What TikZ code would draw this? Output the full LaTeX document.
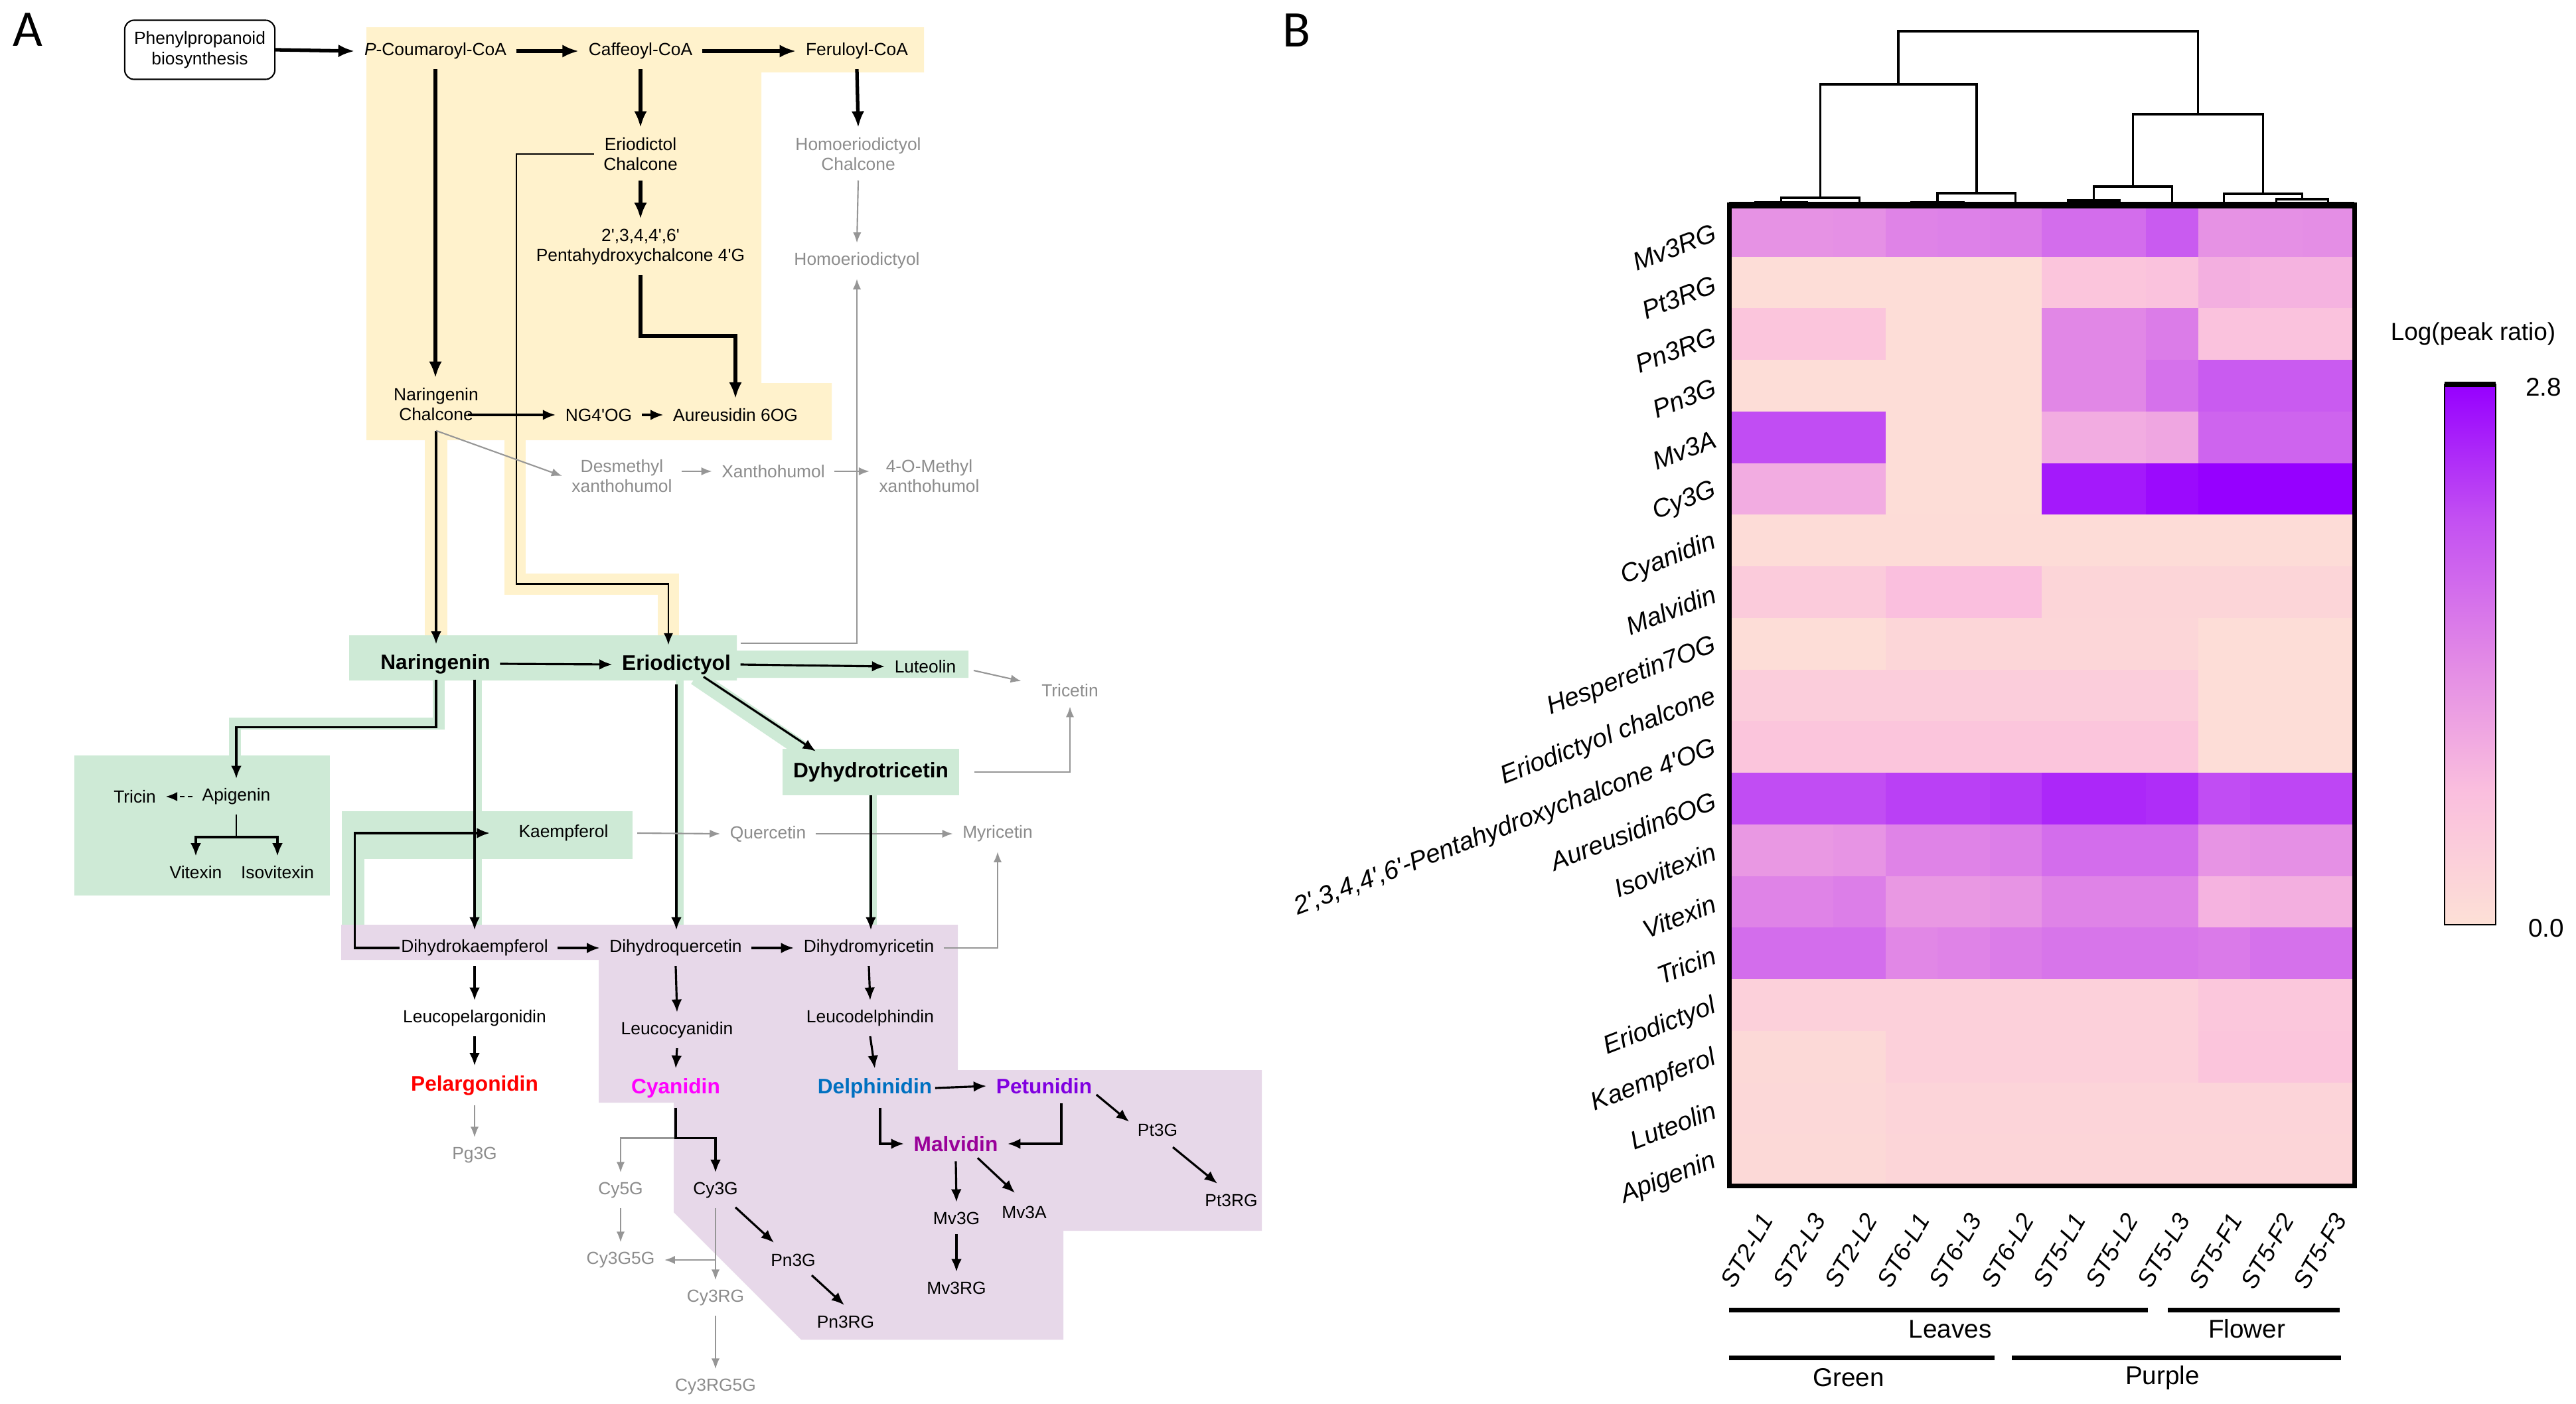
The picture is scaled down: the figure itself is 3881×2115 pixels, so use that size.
\documentclass[tikz,border=0pt]{standalone}
\usepackage{fontspec}
\setmainfont{Liberation Sans}
\newfontfamily\calib{Carlito}
\usetikzlibrary{arrows.meta,calc}
\definecolor{yel}{RGB}{255,242,204}
\definecolor{grn}{RGB}{206,234,214}
\definecolor{pur}{RGB}{231,216,233}
\definecolor{gtx}{RGB}{140,140,140}
\definecolor{gln}{RGB}{150,150,150}
\definecolor{pelc}{RGB}{255,0,0}
\definecolor{cyac}{RGB}{255,0,255}
\definecolor{delc}{RGB}{0,112,192}
\definecolor{petc}{RGB}{128,0,224}
\definecolor{malc}{RGB}{153,0,153}
\definecolor{hs0}{RGB}{253,224,214}
\definecolor{hs1}{RGB}{250,190,222}
\definecolor{hs2}{RGB}{225,135,230}
\definecolor{hs3}{RGB}{195,80,242}
\definecolor{hs4}{RGB}{150,0,255}
\pgfdeclareverticalshading{hmbar}{100bp}{color(0bp)=(hs0); color(25bp)=(hs0); color(37.5bp)=(hs1); color(50bp)=(hs2); color(62.5bp)=(hs3); color(75bp)=(hs4); color(100bp)=(hs4)}
\newcommand\tsm{\fontsize{7.5pt}{8.7pt}\selectfont}
\newcommand\tbf{\fontsize{9pt}{10pt}\selectfont\bfseries}
\newcommand\thm{\fontsize{10.5pt}{12pt}\selectfont}
\newcommand\thl{\fontsize{11pt}{13pt}\selectfont}
\newcommand\pq{\textquotesingle}
\newcommand\setcellcolor[1]{%
  \pgfmathsetmacro\hmv{#1}%
  \ifdim\hmv pt<0.25pt
    \pgfmathsetmacro\hmp{\hmv*400}\colorlet{hc}{hs1!\hmp!hs0}%
  \else\ifdim\hmv pt<0.5pt
    \pgfmathsetmacro\hmp{(\hmv-0.25)*400}\colorlet{hc}{hs2!\hmp!hs1}%
  \else\ifdim\hmv pt<0.75pt
    \pgfmathsetmacro\hmp{(\hmv-0.5)*400}\colorlet{hc}{hs3!\hmp!hs2}%
  \else
    \pgfmathsetmacro\hmp{min(100,(\hmv-0.75)*400)}\colorlet{hc}{hs4!\hmp!hs3}%
  \fi\fi\fi}
\begin{document}
\begin{tikzpicture}[x=0.01cm,y=-0.01cm,
  txt/.style={font=\tsm, inner sep=4pt, align=center},
  gtxt/.style={txt, text=gtx},
  btxt/.style={font=\tbf, inner sep=4pt, align=center},
  tarr/.style={line width=1.5pt, -{Latex[length=7pt,width=5.5pt]}},
  arr/.style={line width=0.9pt, -{Latex[length=5.5pt,width=4.5pt]}},
  narr/.style={line width=0.6pt, -{Latex[length=5pt,width=4pt]}},
  garr/.style={line width=0.6pt, draw=gln, -{Latex[length=4.5pt,width=3.5pt]}},
  dend/.style={line width=0.9pt},
  grp/.style={line width=2pt}
]
\useasboundingbox (0,0) rectangle (3881,2115);
\fill[white] (0,0) rectangle (3881,2115);

% ---------------- Panel A backgrounds
\fill[yel] (552,41) -- (1392,41) -- (1392,109) -- (1147,109) -- (1147,577) -- (1253,577) -- (1253,663) -- (552,663) -- cycle;
\draw[yel, line width=9.5pt] (657,660) -- (657,962);
\draw[yel, line width=9pt] (776,660) -- (776,880) -- (1007,880) -- (1007,962);

\fill[grn] (526,957) -- (1110,957) -- (1110,980) -- (1459,980) -- (1459,1021) -- (1110,1021) -- (1110,1025) -- (526,1025) -- cycle;
\fill[grn] (112,1138) rectangle (497,1349);
\fill[grn] (515,1222) rectangle (953,1294);
\fill[grn] (515,1222) rectangle (549,1394);
\draw[grn, line width=5pt] (661,1020) -- (661,1090) -- (354,1090) -- (354,1140);
\draw[grn, line width=3.5pt] (720,1020) -- (720,1394);
\draw[grn, line width=3.5pt] (1024,1020) -- (1024,1394);
\draw[grn, line width=3.5pt] (1315,1195) -- (1315,1394);
\draw[grn, line width=7pt] (1048,1020) -- (1212,1131);

\fill[pur] (514,1393) -- (1443,1393) -- (1443,1612) -- (1901,1612) -- (1901,1854) -- (1602,1854) -- (1602,2018) -- (1207,2018) -- (1015,1826) -- (1015,1661) -- (902,1661) -- (902,1446) -- (514,1446) -- cycle;

% ---------------- Panel A nodes
\node[font=\calib\fontsize{22pt}{24pt}\selectfont] (labA) at (42,45) {A};
\node[draw, rounded corners=4pt, line width=0.6pt, font=\tsm, align=center, minimum width=2.26cm, minimum height=0.89cm, inner sep=2pt] (phen) at (301,75) {Phenylpropanoid\\biosynthesis};
\node[txt] (pcoum) at (656,77) {\textit{P}-Coumaroyl-CoA};
\node[txt] (caff) at (965,77) {Caffeoyl-CoA};
\node[txt] (feru) at (1291,77) {Feruloyl-CoA};
\node[txt] (eriodch) at (965,232) {Eriodictol\\Chalcone};
\node[txt] (penta) at (965,372) {2\pq,3,4,4\pq,6\pq\\Pentahydroxychalcone 4\pq G};
\node[txt] (narch) at (657,609) {Naringenin\\Chalcone};
\node[txt] (ng4) at (902,625) {NG4\pq OG};
\node[txt] (aure) at (1108,625) {Aureusidin 6OG};
\node[gtxt] (homch) at (1293,232) {Homoeriodictyol\\Chalcone};
\node[gtxt] (homo) at (1291,393) {Homoeriodictyol};
\node[gtxt] (desm) at (937,717) {Desmethyl\\xanthohumol};
\node[gtxt] (xanth) at (1165,710) {Xanthohumol};
\node[gtxt] (omet) at (1400,717) {4-O-Methyl\\xanthohumol};
\node[btxt] (nar) at (656,1000) {Naringenin};
\node[btxt] (erio) at (1019,1001) {Eriodictyol};
\node[txt] (lute) at (1394,1004) {Luteolin};
\node[gtxt] (tricet) at (1612,1040) {Tricetin};
\node[btxt, fill=grn, minimum width=2.66cm, minimum height=0.69cm] (dyhy) at (1312,1163) {Dyhydrotricetin};
\node[txt] (apig) at (356,1200) {Apigenin};
\node[txt] (tricin) at (203,1200) {Tricin};
\node[txt] (vitex) at (295,1314) {Vitexin};
\node[txt] (isovit) at (418,1314) {Isovitexin};
\node[txt] (kaemp) at (849,1255) {Kaempferol};
\node[gtxt] (querc) at (1157,1256) {Quercetin};
\node[gtxt] (myric) at (1503,1256) {Myricetin};
\node[txt] (dhk) at (715,1428) {Dihydrokaempferol};
\node[txt] (dhq) at (1018,1428) {Dihydroquercetin};
\node[txt] (dhm) at (1309,1428) {Dihydromyricetin};
\node[txt] (leucop) at (715,1534) {Leucopelargonidin};
\node[btxt, text=pelc] (pelar) at (715,1635) {Pelargonidin};
\node[gtxt] (pg3g) at (715,1740) {Pg3G};
\node[txt] (leucoc) at (1020,1552) {Leucocyanidin};
\node[btxt, text=cyac] (cyan) at (1018,1639) {Cyanidin};
\node[gtxt] (cy5g) at (935,1793) {Cy5G};
\node[txt] (cy3g) at (1078,1793) {Cy3G};
\node[gtxt] (cy3g5g) at (935,1898) {Cy3G5G};
\node[gtxt] (cy3rg) at (1078,1955) {Cy3RG};
\node[gtxt] (cy3rg5g) at (1078,2089) {Cy3RG5G};
\node[txt] (pn3g) at (1195,1898) {Pn3G};
\node[txt] (pn3rg) at (1274,1991) {Pn3RG};
\node[txt] (leucod) at (1311,1534) {Leucodelphindin};
\node[btxt, text=delc] (delph) at (1318,1639) {Delphinidin};
\node[btxt, text=petc] (petun) at (1573,1636) {Petunidin};
\node[btxt, text=malc] (malv) at (1440,1723) {Malvidin};
\node[txt] (pt3g) at (1744,1702) {Pt3G};
\node[txt] (pt3rg) at (1855,1808) {Pt3RG};
\node[txt] (mv3g) at (1441,1835) {Mv3G};
\node[txt] (mv3rg) at (1441,1940) {Mv3RG};
\node[txt] (mv3a) at (1543,1826) {Mv3A};

% ---------------- Panel A connectors
\draw[tarr] (phen.east) -- (pcoum.west);
\draw[tarr] (pcoum.east) -- (caff.west);
\draw[tarr] (caff.east) -- (feru.west);
\draw[tarr] (pcoum.south) -- (pcoum.south |- narch.north);
\draw[tarr] (caff.south) -- (eriodch.north);
\draw[tarr] (eriodch.south) -- (penta.north);
\draw[tarr] (penta.south) -- ++(0,92) -| (aure.north);
\draw[tarr] (feru.south) -- (homch.north);
\draw[garr] (homch.south) -- (homo.north);
\draw[arr] ($(narch.center)+(48,16)$) -- (ng4.west);
\draw[arr] (ng4.east) -- (aure.west);
\draw[narr] (eriodch.west) -| ($(erio.north)+(-241,-92)$) -| ($(erio.north)+(-12,0)$);
\draw[arr] (narch.south) -- (narch.south |- nar.north);
\draw[garr] (narch.south) -- (desm.west);
\draw[garr] (desm.east |- xanth.west) -- (xanth.west);
\draw[garr] (xanth.east) -- (omet.west |- xanth.east);
\draw[garr] ($(erio.east)+(0,-32)$) -| (homo.south);
\draw[arr] (nar.east) -- (erio.west);
\draw[arr] (erio.east) -- (lute.west);
\draw[garr] ($(lute.east)+(12,6)$) -- ($(tricet.west)+(-16,-14)$);
\draw[garr] ($(dyhy.east)+(22,0)$) -| (tricet.south);
\draw[arr] ($(erio.south)+(41,-11)$) -- ($(dyhy.north)+(-83,4)$);
\draw[arr] (erio.south) -- (erio.south |- dhq.north);
\draw[arr] ($(nar.south)+(59,-6)$) -- (dhk.north);
\draw[arr] ($(nar.south)+(1,-6)$) -- ++(0,72) -| (apig.north);
\draw[line width=0.8pt, dash pattern=on 2pt off 1.5pt, -{Latex[length=5pt,width=4pt]}] (apig.west) -- (tricin.east);
\coordinate (apj) at ($(apig.south)+(0,34)$);
\draw[line width=0.8pt] (apig.south) -- (apj);
\draw[arr] (apj) -| (vitex.north);
\draw[arr] (apj) -| (isovit.north);
\draw[arr] ($(dhk.west)+(12,0)$) -- ++(-67,0) |- ($(kaemp.west)+(-29,0)$);
\draw[garr] ($(kaemp.east)+(29,0)$) -- (querc.west);
\draw[garr] (querc.east) -- (myric.west);
\draw[garr] (dhm.east) -| (myric.south);
\draw[arr] (dyhy.south) -- (dyhy.south |- dhm.north);
\draw[arr] (dhk.east) -- (dhq.west);
\draw[arr] (dhq.east) -- (dhm.west);
\draw[arr] (dhk.south) -- (leucop.north);
\draw[arr] (leucop.south) -- (pelar.north);
\draw[garr] (pelar.south) -- (pg3g.north);
\draw[arr] (dhq.south) -- (leucoc.north);
\draw[arr] (leucoc.south) -- (cyan.north);
\coordinate (cyj) at ($(cyan.south)+(0,46)$);
\draw[garr] (cyj) -| (cy5g.north);
\draw[arr] (cyan.south) -- (cyj) -| (cy3g.north);
\draw[garr] (cy5g.south) -- (cy3g5g.north);
\draw[garr] (cy3g.south) -- (cy3rg.north);
\draw[garr] (cy3g.south |- cy3g5g.east) -- (cy3g5g.east);
\draw[garr] (cy3rg.south) -- (cy3rg5g.north);
\draw[arr] ($(cy3g.south)+(30,-1)$) -- ($(pn3g.north)+(-29,-2)$);
\draw[arr] ($(pn3g.south)+(28,-1)$) -- ($(pn3rg.north)+(-2,-1)$);
\draw[arr] (dhm.south) -- (leucod.north);
\draw[arr] (leucod.south) -- (delph.north);
\draw[arr] ($(delph.east)+(-10,0)$) -- (petun.west);
\draw[arr] ($(delph.south)+(8,0)$) |- (malv.west);
\draw[arr] ($(petun.south)+(26,0)$) |- (malv.east);
\draw[arr] ($(petun.east)+(-8,13)$) -- ($(pt3g.north west)+(2,12)$);
\draw[arr] ($(pt3g.south)+(23,2)$) -- ($(pt3rg.north)+(-21,-1)$);
\draw[arr] (malv.south) -- (mv3g.north);
\draw[arr] (mv3g.south) -- (mv3rg.north);
\draw[arr] ($(malv.south)+(33,-5)$) -- ($(mv3a.north)+(-14,-5)$);

% ---------------- Panel B
\node[font=\calib\fontsize{22pt}{24pt}\selectfont] (labB) at (1954,46) {B};

\foreach \vals [count=\r] in {
 {.45,.45,.46,.52,.53,.54,.62,.62,.70,.45,.46,.47},
 {.02,.02,.02,.02,.02,.02,.2,.2,.22,.32,.3,.3},
 {.2,.2,.2,.02,.02,.02,.5,.5,.55,.22,.22,.22},
 {.02,.02,.02,.02,.02,.02,.5,.5,.6,.7,.7,.7},
 {.76,.76,.76,.02,.02,.02,.33,.33,.36,.66,.66,.66},
 {.33,.33,.33,.02,.02,.02,.92,.92,.97,1,1,1},
 {.03,.03,.03,.03,.03,.03,.03,.03,.03,.03,.03,.03},
 {.15,.15,.15,.24,.24,.24,.08,.08,.08,.08,.08,.08},
 {.02,.02,.02,.07,.07,.07,.07,.07,.07,.02,.02,.02},
 {.14,.14,.14,.14,.14,.14,.14,.14,.14,.02,.02,.02},
 {.2,.2,.2,.2,.2,.2,.2,.2,.2,.02,.02,.02},
 {.76,.76,.76,.8,.8,.82,.88,.88,.86,.76,.78,.78},
 {.42,.42,.44,.52,.52,.54,.62,.62,.62,.44,.46,.46},
 {.52,.52,.54,.42,.42,.44,.52,.52,.52,.3,.32,.32},
 {.62,.62,.62,.5,.52,.55,.58,.58,.58,.56,.6,.6},
 {.12,.12,.12,.12,.12,.12,.12,.12,.12,.18,.18,.18},
 {.05,.05,.05,.12,.12,.12,.12,.12,.12,.2,.2,.2},
 {.06,.06,.06,.09,.09,.09,.09,.09,.09,.09,.09,.09},
 {.05,.05,.05,.08,.08,.08,.08,.08,.08,.08,.08,.08}}{
  \foreach \v [count=\c] in \vals {
    \setcellcolor{\v}
    \fill[hc] ({2605+(\c-1)*78.5},{309+(\r-1)*77.74}) rectangle ++(79.5,78.7);
  }
}
\draw[line width=2pt] (2605,309) rectangle (3547,1786);
\draw[line width=3pt] (2605,309) -- (3547,309);

% dendrogram
\draw[dend] (2644.25,309) -- (2644.25,305) -- (2722.75,305) -- (2722.75,309);
\draw[dend] (2683.5,305) -- (2683.5,298) -- (2801.25,298) -- (2801.25,309);
\draw[dend] (2879.75,309) -- (2879.75,305) -- (2958.25,305) -- (2958.25,309);
\draw[dend] (2919,305) -- (2919,291) -- (3036.75,291) -- (3036.75,309);
\draw[dend] (2742.4,298) -- (2742.4,127) -- (2977.9,127) -- (2977.9,291);
\draw[dend] (3115.25,309) -- (3115.25,302) -- (3193.75,302) -- (3193.75,309);
\draw[dend] (3154.5,302) -- (3154.5,281) -- (3272.25,281) -- (3272.25,309);
\draw[dend] (3429.25,309) -- (3429.25,300) -- (3507.75,300) -- (3507.75,309);
\draw[dend] (3350.75,309) -- (3350.75,292) -- (3468.5,292) -- (3468.5,300);
\draw[dend] (3213.4,281) -- (3213.4,172) -- (3409.6,172) -- (3409.6,292);
\draw[dend] (2860,127) -- (2860,47) -- (3311.5,47) -- (3311.5,172);

% row labels
\foreach \lab [count=\r] in {Mv3RG,Pt3RG,Pn3RG,Pn3G,Mv3A,Cy3G,Cyanidin,Malvidin,Hesperetin7OG,Eriodictyol chalcone,{2\pq,3,4,4\pq,6\pq-Pentahydroxychalcone 4\pq OG},Aureusidin6OG,Isovitexin,Vitexin,Tricin,Eriodictyol,Kaempferol,Luteolin,Apigenin}
  \node[font=\thl\itshape, rotate=21, anchor=east, inner sep=1pt] (rl\r) at (2588,{309+(\r-0.5)*77.74}) {\lab};

% column labels
\foreach \lab [count=\c] in {ST2-L1,ST2-L3,ST2-L2,ST6-L1,ST6-L3,ST6-L2,ST5-L1,ST5-L2,ST5-L3,ST5-F1,ST5-F2,ST5-F3}
  \node[font=\thm\itshape, rotate=60, anchor=east, inner sep=1pt] (cl\c) at ({2605+(\c-0.5)*78.5+20},1828) {\lab};

% groups
\draw[grp] (2605,1973) -- (3236,1973);
\draw[grp] (3266,1973) -- (3525,1973);
\draw[grp] (2605,2045) -- (3005,2045);
\draw[grp] (3031,2045) -- (3527,2045);
\node[font=\thl] (gleaves) at (2938,2002) {Leaves};
\node[font=\thl] (gflower) at (3385,2002) {Flower};
\node[font=\thl] (ggreen) at (2785,2075) {Green};
\node[font=\thl] (gpurple) at (3258,2075) {Purple};

% colour bar
\shade[shading=hmbar] (3683,579) rectangle (3760,1393);
\draw[line width=0.7pt] (3683,579) rectangle (3760,1393);
\draw[line width=2pt] (3683,579) -- (3760,579);
\node[font=\thm] (cbt) at (3726,503) {Log(peak ratio)};
\node[font=\thl] (cbmax) at (3832,583) {2.8};
\node[font=\thl] (cbmin) at (3836,1398) {0.0};
\end{tikzpicture}
\end{document}
